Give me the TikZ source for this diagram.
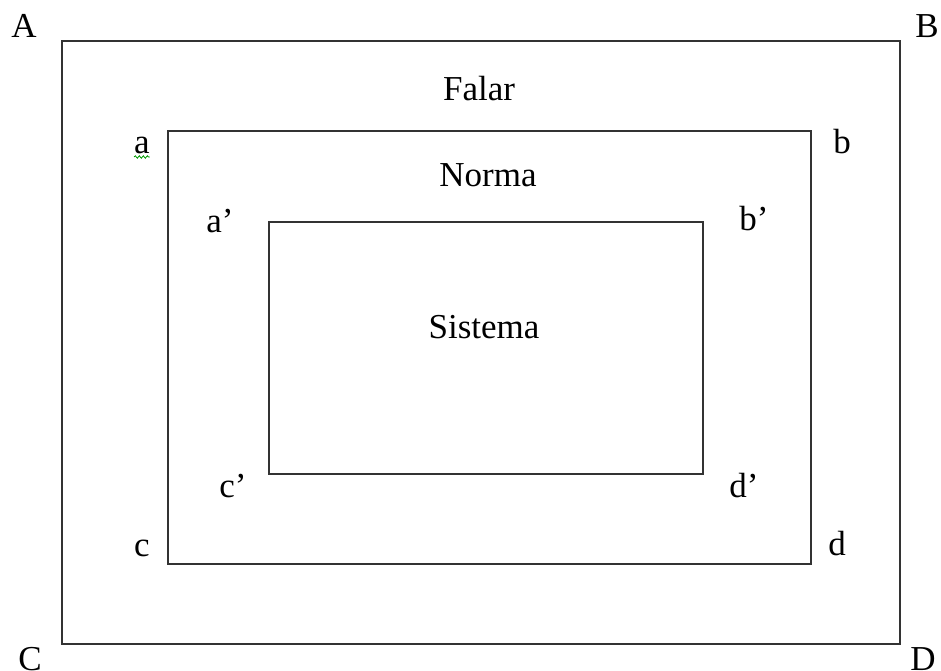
\documentclass[tikz,border=0pt]{standalone}
\usepackage{fontspec}
\setmainfont{Liberation Serif}
\usetikzlibrary{positioning}
\usetikzlibrary{decorations.pathmorphing}

\tikzset{
  box/.style={draw=black!80, line width=2pt},
  lbl/.style={font=\fontsize{35}{40}\selectfont, inner sep=0pt, anchor=base},
  squiggle/.style={draw=green!60!black, line width=0.8pt, decorate,
    decoration={snake, amplitude=1.2pt, segment length=4pt}},
}

\begin{document}
\begin{tikzpicture}[x=1pt, y=-1pt]
    \useasboundingbox (0,0) rectangle (941,670);

    % corners of the three frames
    \coordinate (oA) at (62,41);
    \coordinate (oD) at (900,644);
    \coordinate (ma) at (168,131);
    \coordinate (md) at (811,564);
    \coordinate (ia) at (269,222);
    \coordinate (id) at (703,474);

    \draw[box] (oA) rectangle (oD);
    \draw[box] (ma) rectangle (md);
    \draw[box] (ia) rectangle (id);

    % outer letters
    \node[lbl] (lA) at (24,37) {A};
    \node[lbl] (lB) at (927,37) {B};
    \node[lbl] (lC) at (30,670) {C};
    \node[lbl] (lD) at (923,670) {D};

    % middle letters
    \node[lbl] (la) at (142,153) {a};
    \node[lbl] (lb) at (842,153) {b};
    \node[lbl] (lc) at (142,556) {c};
    \node[lbl] (ld) at (837,555) {d};

    % inner letters
    \node[lbl] (lap) at (220,232) {a’};
    \node[lbl] (lbp) at (754,230) {b’};
    \node[lbl] (lcp) at (233,497) {c’};
    \node[lbl] (ldp) at (744,497) {d’};

    % titles
    \node[lbl] (falar) at (479,100) {Falar};
    \node[lbl] (norma) at (488,186) {Norma};
    \node[lbl] (sistema) at (484,338) {Sistema};

    \coordinate (sqL) at ([yshift=-4pt]la.base west);
    \coordinate (sqR) at ([yshift=-4pt]la.base east);
    \draw[squiggle] (sqL) -- (sqR);
\end{tikzpicture}
\end{document}
